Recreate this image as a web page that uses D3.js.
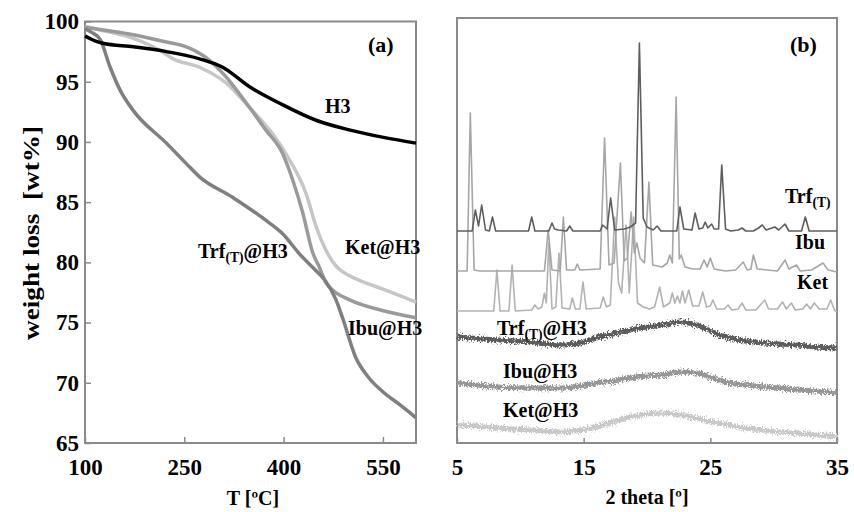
<!DOCTYPE html>
<html>
<head>
<meta charset="utf-8">
<script src="https://cdn.jsdelivr.net/npm/d3@7"></script>
<style>
  body { margin: 0; background: #fff; }
  text { font-family: "Liberation Serif", "Times New Roman", serif; font-weight: bold; fill: #000; white-space: pre; }
</style>
</head>
<body>
<div id="chart-area"></div>
<script>
// ---- (a) TGA curves: [T (ºC), weight (wt%)] ----
var h3 = [[100,98.8],[115,98.4],[127,98.2],[173,97.9],[223,97.5],[273,96.9],[308,96.2],[348,94.6],[398,93.1],[449,91.8],[499,91.0],[549,90.4],[600,89.9]];
var trfH3 = [[100,99.4],[110,99.1],[123,98.5],[138,96.2],[153,94.3],[173,92.6],[223,89.9],[253,88.2],[273,87.1],[323,85.4],[373,83.5],[400,82.3],[424,80.7],[449,79.3],[464,78.4],[479,76.9],[489,75.4],[509,72.1],[529,70.4],[549,69.3],[575,68.2],[600,67.1]];
var ibuH3 = [[100,99.5],[173,98.9],[223,98.3],[253,97.9],[283,97.0],[313,95.4],[348,92.9],[373,91.0],[398,89.1],[414,86.8],[429,84.1],[444,80.8],[454,79.6],[464,78.3],[474,77.7],[499,76.9],[549,76.0],[600,75.4]];
var ketH3 = [[100,99.6],[123,99.3],[173,98.6],[213,97.6],[233,96.9],[273,96.2],[313,94.9],[348,92.9],[383,90.7],[409,88.5],[434,85.7],[449,83.0],[464,81.0],[479,79.7],[499,78.9],[524,78.3],[549,77.8],[600,76.7]];
var tgaTicksX = [100, 250, 400, 550];
var tgaTicksY = [65, 70, 75, 80, 85, 90, 95, 100];

// ---- (b) XRD patterns: [2 theta (º), intensity (a.u.)] ----
var trfXrd = [[5,212],[6.2,212],[6.45,233],[6.7,217],[6.95,238],[7.25,213],[7.55,212],[7.8,226],[8.05,212],[10.65,212],[10.9,226],[11.15,212],[12.25,212],[12.5,220],[12.7,214],[13.0,213],[13.65,212],[13.9,217],[14.15,212],[16.3,212],[16.5,218],[16.85,214],[17.13,245],[17.45,213],[18.2,214],[18.7,216],[19.1,220],[19.4,400],[19.7,225],[20.0,216],[20.5,213],[20.8,217],[21.1,212],[22.35,212],[22.6,236],[22.9,214],[23.55,213],[23.8,230],[24.1,214],[24.4,215],[24.6,221],[24.8,215],[25.1,219],[25.3,214],[25.65,214],[25.9,278],[26.2,214],[26.6,212],[27.2,213],[27.5,215],[27.8,212],[28.4,212],[28.8,215],[29.1,218],[29.4,213],[30.1,216],[30.4,213],[30.9,219],[31.2,212],[32.2,212],[32.5,226],[32.8,212],[35,212]];
var ibuXrd = [[5,172],[5.8,172],[6.05,330],[6.35,173],[6.8,172],[11.9,172],[12.2,213],[12.5,173],[13.15,172],[13.4,226],[13.65,173],[14.3,173],[14.5,179],[14.7,173],[16.3,174],[16.65,305],[17.0,178],[17.4,180],[17.9,280],[18.2,182],[18.45,185],[18.75,231],[19.0,190],[19.2,200],[19.45,185],[19.8,180],[20.15,261],[20.45,178],[21.2,176],[21.6,180],[21.8,188],[22.0,180],[22.3,346],[22.55,184],[22.7,188],[23.0,176],[23.6,174],[24.2,174],[24.5,183],[24.75,176],[25.0,185],[25.3,174],[26.2,172],[27.0,173],[27.6,181],[27.9,173],[28.2,174],[28.4,188],[28.7,174],[29.5,173],[30.3,172],[30.9,183],[31.2,174],[31.8,178],[32.1,172],[33.0,173],[33.9,180],[34.3,173],[35,171]];
var ketXrd = [[5,132],[7.9,132],[8.15,173],[8.4,132],[9.1,132],[9.35,178],[9.6,132],[10.9,133],[11.15,138],[11.4,134],[11.7,136],[11.9,150],[12.05,140],[12.25,200],[12.5,134],[12.8,136],[13.05,190],[13.3,135],[13.9,134],[14.1,145],[14.35,134],[14.7,134],[14.95,161],[15.2,134],[16.3,135],[16.55,146],[16.8,136],[17.1,138],[17.45,226],[17.75,160],[18.0,150],[18.35,218],[18.6,150],[18.95,226],[19.25,140],[19.7,136],[20.2,134],[20.6,136],[21.0,156],[21.3,136],[21.8,140],[22.0,150],[22.2,140],[22.4,147],[22.6,140],[22.8,152],[23.0,140],[23.3,153],[23.6,137],[24.1,137],[24.4,151],[24.7,136],[25.0,137],[25.2,143],[25.5,134],[26.1,134],[26.4,138],[26.7,133],[27.2,134],[27.5,140],[27.8,133],[28.6,133],[29.3,143],[29.6,134],[30.3,134],[30.7,141],[31.0,134],[31.4,140],[31.7,133],[32.3,134],[32.6,139],[32.9,134],[33.2,140],[33.6,134],[34.2,134],[34.5,143],[34.8,133],[35,131]];
var trfH3Xrd = [[5,106],[6,105],[7,104],[8.2,103],[9.5,102],[10.8,101],[12,99],[13.4,98],[14.7,100],[16,105],[17.3,109],[18.7,113],[20,116],[21.3,118],[22.6,121],[23.9,118],[25.2,111],[26.5,105],[27.8,102],[29.2,100],[30.5,99],[31.8,98],[33.4,96],[35,95]];
var ibuH3Xrd = [[5,60],[6.5,58],[8.2,56],[10.8,55],[13.4,55],[14.7,57],[16,60],[17.3,62],[18.7,65],[20,67],[21.3,68],[22.6,71],[23.9,70],[25.2,65],[26.5,60],[27.8,58],[29.2,56],[30.5,55],[31.8,53],[33.4,52],[35,50]];
var ketH3Xrd = [[5,18],[6.5,17],[8.2,15],[10.8,13],[13.4,11],[14.7,13],[16,16],[17.3,21],[18.7,26],[20,29],[21.3,30],[22.6,28],[23.9,25],[25.2,21],[26.5,18],[27.8,15],[29.2,13],[30.5,11],[31.8,10],[33.4,8],[35,6]];
var xrdTicksX = [5, 15, 25, 35];

var svg = d3.select("#chart-area")
  .append("svg")
  .attr("width", 854)
  .attr("height", 512);

svg.append("rect").attr("width", 854).attr("height", 512).attr("fill", "#fff");

// noisy look for the amorphous traces
var filt = svg.append("defs").append("filter")
  .attr("id", "noisy")
  .attr("x", "-5%").attr("y", "-50%").attr("width", "110%").attr("height", "200%");
filt.append("feTurbulence")
  .attr("type", "fractalNoise")
  .attr("baseFrequency", "1.2 0.5")
  .attr("numOctaves", 2)
  .attr("seed", 3)
  .attr("result", "n");
filt.append("feDisplacementMap")
  .attr("in", "SourceGraphic")
  .attr("in2", "n")
  .attr("scale", 8)
  .attr("xChannelSelector", "R")
  .attr("yChannelSelector", "G");

var frameColor = "#8a8a8a";

function styleAxis(g, size) {
  g.select(".domain").remove();
  g.selectAll(".tick line").attr("stroke", frameColor).attr("stroke-width", 1.5);
  g.selectAll(".tick text")
    .attr("font-family", "Liberation Serif")
    .attr("font-weight", "bold")
    .attr("font-size", size)
    .attr("fill", "#000");
}

function addLabel(g, x, y, main, sub, rest, size) {
  var t = g.append("text").attr("x", x).attr("y", y).attr("font-size", size);
  t.append("tspan").text(main);
  if (sub) {
    t.append("tspan").attr("font-size", size * 0.68).attr("dy", 4).text(sub);
    t.append("tspan").attr("dy", -4).text(rest);
  }
}

// ---------------- panel (a) ----------------
var a = { left: 85, right: 416, top: 21.5, bottom: 443 };

var xa = d3.scaleLinear().domain([100, 600]).range([a.left, a.right]);
var ya = d3.scaleLinear().domain([65, 100]).range([a.bottom, a.top]);

var axA = svg.append("g")
  .attr("transform", "translate(0," + a.bottom + ")")
  .call(d3.axisBottom(xa).tickValues(tgaTicksX).tickSize(-6).tickPadding(16));
styleAxis(axA, 23);

var ayA = svg.append("g")
  .attr("transform", "translate(" + a.left + ",0)")
  .call(d3.axisLeft(ya).tickValues(tgaTicksY).tickSize(-6).tickPadding(6));
styleAxis(ayA, 23);

svg.append("rect")
  .attr("x", a.left).attr("y", a.top)
  .attr("width", a.right - a.left).attr("height", a.bottom - a.top)
  .attr("fill", "none").attr("stroke", frameColor).attr("stroke-width", 2);

var tga = [
  { data: ketH3, color: "#c6c6c6" },
  { data: ibuH3, color: "#9a9a9a" },
  { data: trfH3, color: "#7f7f7f" },
  { data: h3, color: "#000000" }
];

var lineA = d3.line()
  .x(function(d) { return xa(d[0]); })
  .y(function(d) { return ya(d[1]); })
  .curve(d3.curveMonotoneX);

svg.selectAll(".tga")
  .data(tga)
  .enter()
  .append("path")
  .attr("class", "tga")
  .attr("d", function(d) { return lineA(d.data); })
  .attr("fill", "none")
  .attr("stroke", function(d) { return d.color; })
  .attr("stroke-width", 3.5)
  .attr("stroke-linejoin", "round");

addLabel(svg, 368, 52, "(a)", null, null, 22);
addLabel(svg, 325, 113, "H3", null, null, 20);
addLabel(svg, 345, 254, "Ket@H3", null, null, 20);
addLabel(svg, 198, 258, "Trf", "(T)", "@H3", 20);
addLabel(svg, 348, 335, "Ibu@H3", null, null, 20);

svg.append("text")
  .attr("x", 253).attr("y", 505)
  .attr("text-anchor", "middle")
  .attr("font-size", 20)
  .text("T [ºC]");

svg.append("text")
  .attr("transform", "translate(39,233) rotate(-90)")
  .attr("text-anchor", "middle")
  .attr("font-size", 23)
  .attr("textLength", 214)
  .attr("lengthAdjust", "spacingAndGlyphs")
  .text("weight loss  [wt%]");

// ---------------- panel (b) ----------------
var b = { left: 457, right: 837, top: 18, bottom: 443 };

var xb = d3.scaleLinear().domain([5, 35]).range([b.left, b.right]);
var yb = d3.scaleLinear().domain([0, 425]).range([b.bottom, b.top]);

var axB = svg.append("g")
  .attr("transform", "translate(0," + b.bottom + ")")
  .call(d3.axisBottom(xb).tickValues(xrdTicksX).tickSize(-5).tickPadding(16));
styleAxis(axB, 23);

svg.append("rect")
  .attr("x", b.left).attr("y", b.top)
  .attr("width", b.right - b.left).attr("height", b.bottom - b.top)
  .attr("fill", "none").attr("stroke", frameColor).attr("stroke-width", 2);

var lineB = d3.line()
  .x(function(d) { return xb(d[0]); })
  .y(function(d) { return yb(d[1]); });

var smoothB = d3.line()
  .x(function(d) { return xb(d[0]); })
  .y(function(d) { return yb(d[1]); })
  .curve(d3.curveMonotoneX);

var amorph = [
  { data: trfH3Xrd, color: "#5c5c5c" },
  { data: ibuH3Xrd, color: "#969696" },
  { data: ketH3Xrd, color: "#c8c8c8" }
];

svg.selectAll(".amorph")
  .data(amorph)
  .enter()
  .append("path")
  .attr("class", "amorph")
  .attr("d", function(d) { return smoothB(d.data); })
  .attr("fill", "none")
  .attr("stroke", function(d) { return d.color; })
  .attr("stroke-width", 5)
  .attr("filter", "url(#noisy)");

var cryst = [
  { data: ketXrd, color: "#b2b2b2" },
  { data: ibuXrd, color: "#a6a6a6" },
  { data: trfXrd, color: "#5e5e5e" }
];

svg.selectAll(".cryst")
  .data(cryst)
  .enter()
  .append("path")
  .attr("class", "cryst")
  .attr("d", function(d) { return lineB(d.data); })
  .attr("fill", "none")
  .attr("stroke", function(d) { return d.color; })
  .attr("stroke-width", 1.6)
  .attr("stroke-linejoin", "round");

addLabel(svg, 790, 52, "(b)", null, null, 22);
addLabel(svg, 785, 203, "Trf", "(T)", "", 20);
addLabel(svg, 795, 249, "Ibu", null, null, 20);
addLabel(svg, 797, 289, "Ket", null, null, 20);
addLabel(svg, 497, 335, "Trf", "(T)", "@H3", 20);
addLabel(svg, 503, 378, "Ibu@H3", null, null, 20);
addLabel(svg, 503, 417, "Ket@H3", null, null, 20);

svg.append("text")
  .attr("x", 647).attr("y", 504)
  .attr("text-anchor", "middle")
  .attr("font-size", 20)
  .text("2 theta [º]");
</script>
</body>
</html>
